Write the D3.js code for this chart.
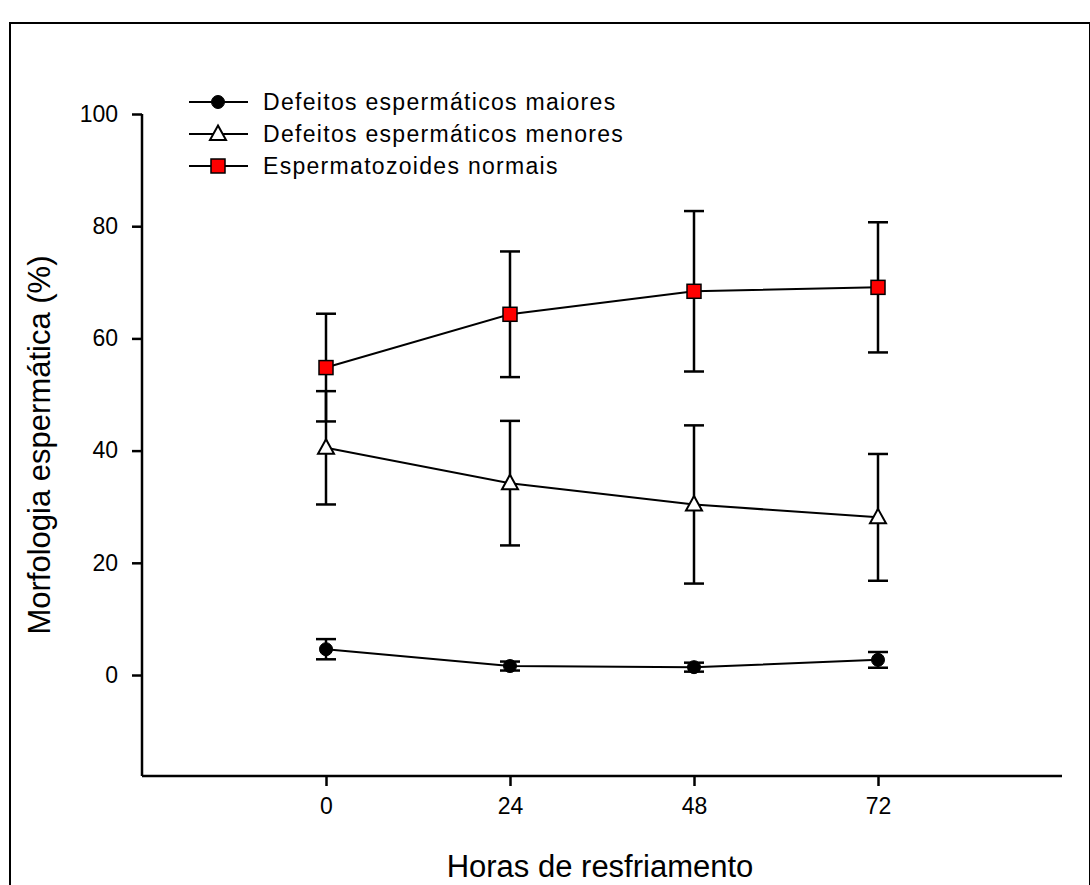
<!DOCTYPE html>
<html>
<head>
<meta charset="utf-8">
<script src="https://cdn.jsdelivr.net/npm/d3@7"></script>
<style>
  body { margin: 0; background: #fff; }
  text { font-family: "Liberation Sans", Arial, sans-serif; fill: #000; }
</style>
</head>
<body>
<div id="chart-area"></div>
<script>
const hours = [0, 24, 48, 72]
const xTicks = [0, 24, 48, 72]
const yTicks = [0, 20, 40, 60, 80, 100]

// mean and error (sd) per series
const maioresMean = [4.6, 1.6, 1.4, 2.7]
const maioresErr = [1.8, 0.8, 0.8, 1.4]
const menoresMean = [40.5, 34.2, 30.4, 28.1]
const menoresErr = [10.1, 11.1, 14.1, 11.3]
const normaisMean = [54.8, 64.3, 68.4, 69.1]
const normaisErr = [9.6, 11.2, 14.3, 11.6]

const seriesNames = ["Defeitos espermáticos maiores", "Defeitos espermáticos menores", "Espermatozoides normais"]

const W = 1090, H = 885
const MARGIN = {LEFT: 142, TOP: 114, RIGHT: 1062, BOTTOM: 776}

const svg = d3.select("#chart-area").append("svg")
  .attr("width", W)
  .attr("height", H)

// outer frame
svg.append("rect")
  .attr("x", 10).attr("y", 23)
  .attr("width", 1080).attr("height", 900)
  .attr("fill", "none").attr("stroke", "#000").attr("stroke-width", 2)

const x = d3.scaleLinear().domain([-24, 96]).range([MARGIN.LEFT, MARGIN.RIGHT])
const y = d3.scaleLinear().domain([-18, 100]).range([MARGIN.BOTTOM, MARGIN.TOP])

// axes
const xAxis = svg.append("g")
  .attr("transform", `translate(0, ${MARGIN.BOTTOM})`)
  .call(d3.axisBottom(x).tickValues(xTicks).tickSize(10).tickPadding(12).tickSizeOuter(0))
const yAxis = svg.append("g")
  .attr("transform", `translate(${MARGIN.LEFT}, 0)`)
  .call(d3.axisLeft(y).tickValues(yTicks).tickSize(10).tickPadding(14).tickSizeOuter(0))

// left axis only goes to 100
yAxis.select(".domain").attr("d", `M0,${y(100)}V${MARGIN.BOTTOM}`)
xAxis.select(".domain").attr("d", `M${MARGIN.LEFT},0H${MARGIN.RIGHT}`)

svg.selectAll(".domain, .tick line").attr("stroke", "#000").attr("stroke-width", 2.5)
svg.selectAll("g.tick text")
  .attr("font-family", "Liberation Sans, Arial, sans-serif")
  .attr("fill", "#000")
  .style("font-size", "23px")

// titles
svg.append("text")
  .attr("x", 600).attr("y", 877)
  .style("font-size", "31px")
  .attr("text-anchor", "middle")
  .text("Horas de resfriamento")

svg.append("text")
  .attr("transform", `translate(50, ${(MARGIN.TOP + MARGIN.BOTTOM) / 2}) rotate(-90)`)
  .style("font-size", "31px")
  .attr("text-anchor", "middle")
  .text("Morfologia espermática (%)")

const line = d3.line().x(d => x(d.h)).y(d => y(d.m))

function toPoints (means, errs) {
  return hours.map((h, i) => ({h: h, m: means[i], e: errs[i]}))
}

const series = [
  {name: seriesNames[0], pts: toPoints(maioresMean, maioresErr), shape: "circle"},
  {name: seriesNames[1], pts: toPoints(menoresMean, menoresErr), shape: "triangle"},
  {name: seriesNames[2], pts: toPoints(normaisMean, normaisErr), shape: "square"}
]

function drawMarker (sel, shape) {
  if (shape === "circle") {
    sel.append("circle").attr("r", 6.5).attr("fill", "#000").attr("stroke", "#000").attr("stroke-width", 1)
  } else if (shape === "triangle") {
    sel.append("path").attr("d", "M0,-8.5L8,6L-8,6Z").attr("fill", "#fff").attr("stroke", "#000").attr("stroke-width", 2)
  } else {
    sel.append("rect").attr("x", -7).attr("y", -7).attr("width", 14).attr("height", 14)
      .attr("fill", "#ff0000").attr("stroke", "#000").attr("stroke-width", 1.5)
  }
}

series.forEach(s => {
  const g = svg.append("g")
  // error bars
  const eb = g.selectAll(".err").data(s.pts).enter().append("g")
  eb.append("line")
    .attr("x1", d => x(d.h)).attr("x2", d => x(d.h))
    .attr("y1", d => y(d.m + d.e)).attr("y2", d => y(d.m - d.e))
    .attr("stroke", "#000").attr("stroke-width", 2.5)
  eb.append("line")
    .attr("x1", d => x(d.h) - 10).attr("x2", d => x(d.h) + 10)
    .attr("y1", d => y(d.m + d.e)).attr("y2", d => y(d.m + d.e))
    .attr("stroke", "#000").attr("stroke-width", 2.5)
  eb.append("line")
    .attr("x1", d => x(d.h) - 10).attr("x2", d => x(d.h) + 10)
    .attr("y1", d => y(d.m - d.e)).attr("y2", d => y(d.m - d.e))
    .attr("stroke", "#000").attr("stroke-width", 2.5)

  g.append("path").datum(s.pts)
    .attr("d", line).attr("fill", "none").attr("stroke", "#000").attr("stroke-width", 2)

  g.selectAll(".mk").data(s.pts).enter().append("g")
    .attr("transform", d => `translate(${x(d.h)}, ${y(d.m)})`)
    .each(function () { drawMarker(d3.select(this), s.shape) })
})

// legend
const legend = svg.append("g").attr("transform", "translate(189, 102)")
series.forEach((s, i) => {
  const row = legend.append("g").attr("transform", `translate(0, ${i * 32})`)
  row.append("line").attr("x1", 0).attr("x2", 59).attr("y1", 0).attr("y2", 0)
    .attr("stroke", "#000").attr("stroke-width", 2)
  const m = row.append("g").attr("transform", "translate(29, 0)")
  drawMarker(m, s.shape)
  row.append("text").attr("x", 74).attr("y", 8)
    .style("font-size", "23px")
    .style("letter-spacing", "1.3px")
    .text(s.name)
})
</script>
</body>
</html>
